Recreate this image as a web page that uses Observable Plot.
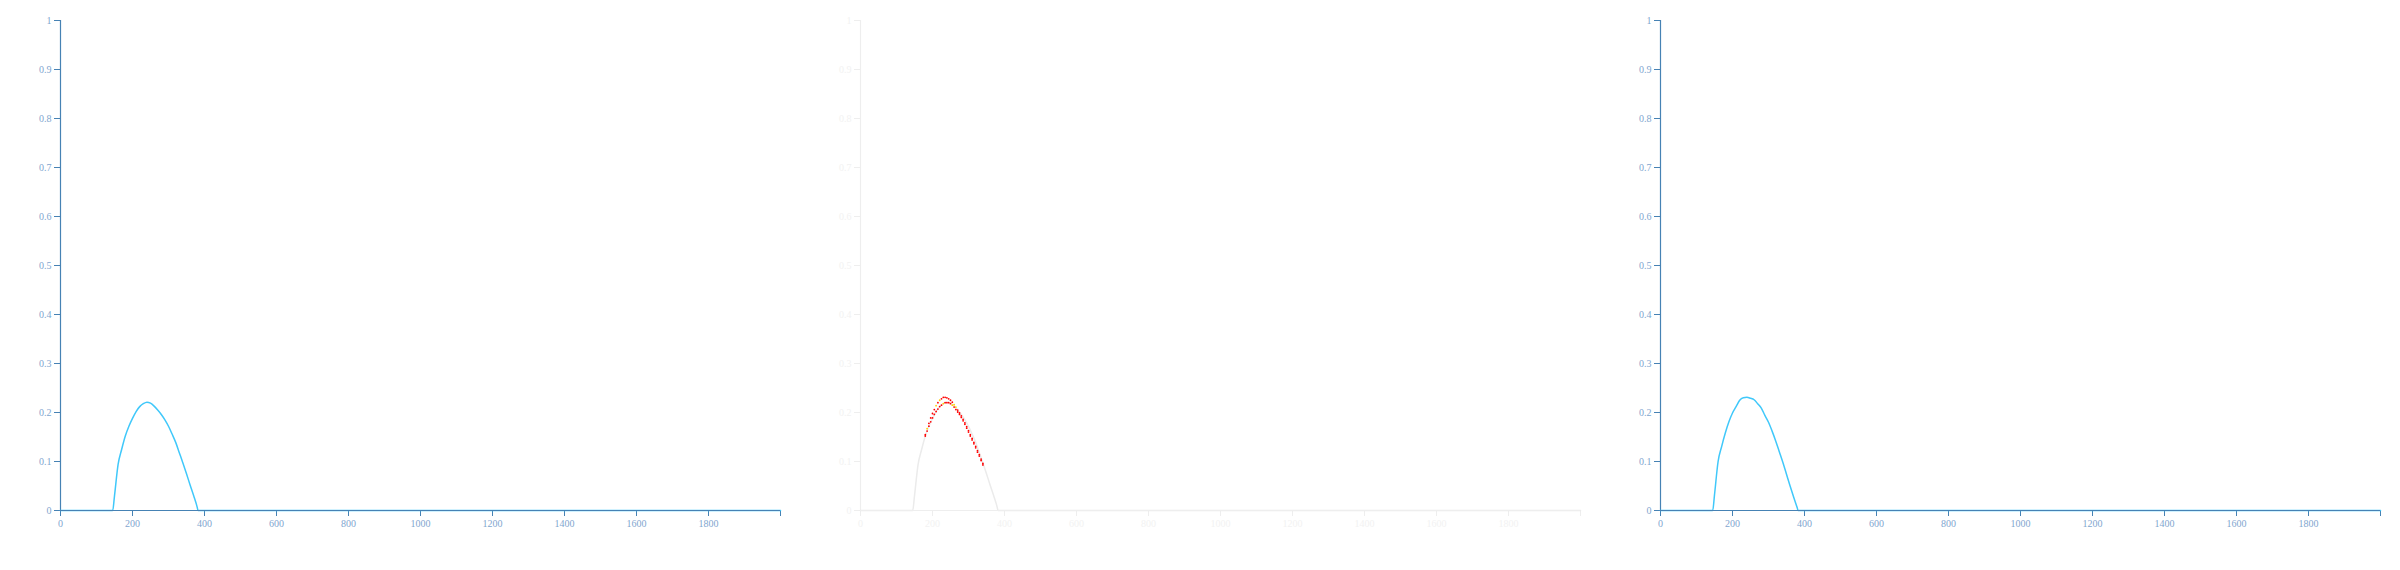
<!DOCTYPE html>
<html><head><meta charset="utf-8">
<script src="https://cdn.jsdelivr.net/npm/d3@7"></script>
<script src="https://cdn.jsdelivr.net/npm/@observablehq/plot@0.6"></script>
<style>
body{margin:0;background:#fff}
#row{display:flex;width:2400px;height:570px}
#row>div{width:800px;height:570px}
</style>
</head><body>
<div id="row"><div id="p1"></div><div id="p2"></div><div id="p3"></div></div>
<script>
// ---- data ----
const xTicks = [0, 200, 400, 600, 800, 1000, 1200, 1400, 1600, 1800, 2000];
const yTicks = [0, 0.1, 0.2, 0.3, 0.4, 0.5, 0.6, 0.7, 0.8, 0.9, 1];

const curveX = [0, 145, 150, 160, 170, 180, 190, 200, 210, 220, 230, 240, 250, 260, 270, 280, 290, 300, 310, 320, 330, 340, 350, 360, 370, 380, 382, 2000];
const leftY  = [0, 0, 0.030, 0.094, 0.125, 0.152, 0.172, 0.188, 0.202, 0.212, 0.218, 0.221, 0.219, 0.213, 0.205, 0.196, 0.185, 0.172, 0.156, 0.139, 0.118, 0.097, 0.075, 0.052, 0.030, 0.006, 0, 0];
const rightY = [0, 0, 0.032, 0.100, 0.131, 0.158, 0.181, 0.199, 0.212, 0.225, 0.230, 0.231, 0.229, 0.226, 0.218, 0.209, 0.194, 0.180, 0.162, 0.142, 0.120, 0.098, 0.074, 0.050, 0.027, 0.005, 0, 0];

const dotX   = [180, 185, 190, 195, 200, 205, 210, 215, 220, 225, 230, 235, 240, 245, 250, 255, 260, 265, 270, 275, 280, 285, 290, 295, 300, 305, 310, 315, 320, 325, 330, 335, 340];
const upperY = [0.155, 0.167, 0.178, 0.189, 0.198, 0.206, 0.214, 0.220, 0.225, 0.228, 0.231, 0.231, 0.230, 0.228, 0.225, 0.221, 0.216, 0.211, 0.205, 0.199, 0.193, 0.186, 0.179, 0.171, 0.163, 0.155, 0.147, 0.139, 0.131, 0.122, 0.114, 0.105, 0.096];
const lowerY = [0.152, 0.162, 0.172, 0.181, 0.189, 0.196, 0.202, 0.207, 0.212, 0.215, 0.218, 0.220, 0.220, 0.220, 0.218, 0.215, 0.211, 0.206, 0.201, 0.196, 0.190, 0.183, 0.176, 0.168, 0.160, 0.152, 0.144, 0.136, 0.128, 0.119, 0.111, 0.102, 0.093];
const upperYellow = [185, 210, 220, 260, 265];
const lowerYellow = [230, 255];

// ---- build tables ----
const leftCurve = curveX.map((x, i) => ({x, y: leftY[i]}));
const rightCurve = curveX.map((x, i) => ({x, y: rightY[i]}));
const dots = [
  ...dotX.map((x, i) => ({x, y: lowerY[i], c: lowerYellow.includes(x) ? "#ffd000" : "#ff0000"})),
  ...dotX.map((x, i) => ({x, y: upperY[i], c: upperYellow.includes(x) ? "#ffd000" : "#ff0000"}))
];

function panel(axisStroke, textFill, marks) {
  return Plot.plot({
    width: 800, height: 570,
    marginLeft: 60, marginRight: 20, marginTop: 20, marginBottom: 60,
    x: {domain: [0, 2000], axis: null},
    y: {domain: [0, 1], axis: null},
    color: {type: "identity"},
    style: {fontFamily: "'Liberation Serif', serif", fontSize: "10px", background: "white", overflow: "visible"},
    marks: [
      Plot.ruleX([0], {stroke: axisStroke, strokeWidth: 1.2}),
      Plot.axisY({ticks: yTicks, label: null, tickSize: 6, tickPadding: 3, stroke: axisStroke, fill: textFill, tickFormat: d => String(d)}),
      Plot.axisX({ticks: xTicks, label: null, tickSize: 6, tickPadding: 3, stroke: axisStroke, fill: textFill, tickFormat: d => d === 2000 ? "" : String(d)}),
      ...marks,
      Plot.ruleY([0], {stroke: axisStroke, strokeWidth: 1.2})
    ]
  });
}

const blue = "#40c8fa";
document.getElementById("p1").append(panel("#4682b4", "#7fa6cf", [
  Plot.line(leftCurve, {x: "x", y: "y", stroke: blue, strokeWidth: 1.5, curve: "monotone-x"})
]));
document.getElementById("p2").append(panel("#eeeeee", "#f2f2f2", [
  Plot.line(leftCurve, {x: "x", y: "y", stroke: "#ebebeb", strokeWidth: 1.5, curve: "monotone-x"}),
  Plot.dot(dots, {x: "x", y: "y", fill: "c", r: 0.9, stroke: null})
]));
document.getElementById("p3").append(panel("#4682b4", "#7fa6cf", [
  Plot.line(rightCurve, {x: "x", y: "y", stroke: blue, strokeWidth: 1.5, curve: "monotone-x"})
]));
</script>
</body></html>
